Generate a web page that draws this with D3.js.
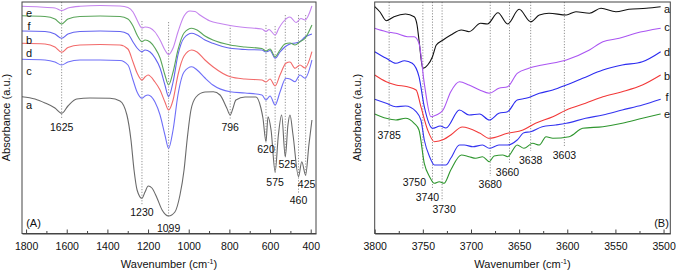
<!DOCTYPE html>
<html>
<head>
<meta charset="utf-8">
<script src="https://cdn.jsdelivr.net/npm/d3@7"></script>
<style>
  body { margin: 0; background: #fff; }
  svg { display: block; font-family: "Liberation Sans", Arial, sans-serif; }
</style>
</head>
<body>
<div id="vis"></div>
<script>
// ---- data: [wavenumber, absorbance (offset, a.u.)] ----

// panel A, 1820-374 cm-1
const A_a = [[1820,137.3],[1756,135],[1707,131],[1658,126],[1625,120.7],[1594,128],[1551,135],[1486,136],[1387,135.7],[1338,133],[1304,119],[1284,94],[1269,64],[1254,44],[1230,35.7],[1215,42],[1199,48],[1181,46],[1156,36],[1131,24],[1099,18],[1068,22],[1043,39],[1023,64],[1008,94],[989,124],[964,137],[920,142],[879,142.3],[846,139],[813,126],[796,119],[782,126],[768,134],[723,137],[669,137],[645,126],[635,116],[620,92.3],[610,117.3],[595,104],[575,62.3],[559,99],[543,119],[525,77.3],[512,109],[502,119],[487,99],[460,57.3],[444,72.3],[425,59],[409,89],[394,114]];
const A_c = [[1820,174.7],[1707,174],[1658,172],[1625,169],[1594,172],[1535,174],[1436,174],[1338,173.5],[1299,169],[1274,154],[1254,142],[1230,135.7],[1215,138],[1200,139],[1166,132],[1141,119],[1117,99],[1099,85.7],[1077,104],[1053,139],[1023,162],[985,167.3],[959,164],[920,156],[881,149],[796,142.3],[723,141],[640,139],[620,134],[600,138],[575,129],[551,142],[522,155.7],[502,155],[477,152.3],[453,159],[428,155.7],[394,174]];
const A_d = [[1820,190.7],[1707,190],[1658,187],[1625,181.7],[1594,186.5],[1535,189],[1436,189.5],[1338,189],[1299,185],[1274,172],[1254,161],[1230,154],[1215,157],[1200,159],[1166,152],[1141,144],[1117,132],[1099,124],[1077,134],[1053,159],[1023,178],[985,184],[959,182],[920,174],[881,167.3],[796,157.3],[723,155],[640,154],[620,152],[600,155],[575,148],[551,159],[522,170.7],[502,172],[477,165.7],[453,169],[428,166],[394,182.3]];
const A_b = [[1820,203],[1707,202.5],[1658,200],[1625,195.7],[1594,200],[1535,202.5],[1436,203],[1338,202.5],[1299,200],[1274,192],[1254,186],[1230,182.3],[1215,184],[1190,182],[1166,176],[1141,166],[1117,149],[1099,137.3],[1077,152],[1053,179],[1023,196],[985,200.7],[959,199],[920,194],[881,190.7],[796,185.7],[723,184.5],[640,184],[620,182],[600,183.5],[575,175.7],[551,182],[527,187],[502,190],[477,191],[453,192.3],[428,197],[394,200]];
const A_f = [[1820,218.3],[1707,217.5],[1658,215],[1625,210],[1594,215],[1535,217.5],[1436,218],[1338,217.5],[1299,215],[1274,208],[1254,199],[1230,192.3],[1215,194],[1190,192],[1166,186],[1141,176],[1117,159],[1099,149],[1077,162],[1053,184],[1023,201],[985,205.7],[959,204],[920,198],[881,194],[796,189],[723,187],[640,185.5],[620,183],[600,185],[575,177.3],[551,184],[527,190],[502,191],[477,189],[453,192.3],[428,195.7],[394,209]];
const A_e = [[1820,227.7],[1731,227],[1658,226],[1625,223.5],[1594,226],[1535,227.7],[1436,228.5],[1338,228],[1299,226.5],[1274,222],[1254,214],[1230,206],[1215,207],[1190,206],[1166,202],[1141,194],[1117,184],[1099,179.5],[1077,186],[1053,202],[1023,218],[994,223],[969,222.5],[945,219],[895,213],[846,210.5],[796,208.5],[723,206.5],[640,205],[620,202.5],[605,204.5],[575,199],[556,206],[536,212],[502,217],[472,211.5],[448,215.5],[428,214],[394,228]];

// panel B, 3800-3493 cm-1
const B_a = [[3800,227.3],[3794.5,222],[3788,213.3],[3780,217.3],[3768,220],[3759,217.3],[3756,209],[3754,194],[3750,165.7],[3745,169],[3740,177.3],[3736,189],[3729,194],[3721,199],[3710,204],[3702,202.3],[3690,210.7],[3683,210],[3672,221.3],[3662,210],[3650,224.7],[3638,212.3],[3629,219],[3619,220.7],[3601,219],[3591,222.3],[3577,220.7],[3565,225.7],[3549.5,222.3],[3536,224.7],[3518,225.7],[3503,227.3]];
const B_c = [[3800,205.7],[3788,202.3],[3778,200.7],[3766,197.3],[3759,197.3],[3754,190.7],[3748.5,150.7],[3741.6,117.3],[3736,119],[3729,124],[3721,142.3],[3712,152.3],[3702,149],[3691,144],[3681,140.7],[3671,145.7],[3662,147.3],[3652,160.7],[3640,165.7],[3626,169],[3601,174],[3577,184],[3563,192.3],[3546,195.7],[3529,200.7],[3503,205.7]];
const B_d = [[3800,182.3],[3788,175.7],[3778,170.7],[3769,173.3],[3761,170.7],[3754,157.3],[3748.5,127.3],[3740,105.7],[3732,108],[3726,106],[3712,124],[3702,119],[3691,120],[3681,114],[3671,120.7],[3662,122.3],[3652,134],[3643,135.7],[3629,140.7],[3615,144],[3601,149],[3584,155.7],[3563,164],[3543,169],[3522,172.3],[3503,182.3]];
const B_b = [[3800,159],[3788,152.3],[3778,149],[3766,147.3],[3757,144],[3752,127.3],[3745,104],[3738,92.3],[3728,94.7],[3721,99],[3709,107],[3691,101],[3681,95.7],[3662,100.7],[3646,104],[3633,110.7],[3615,117.3],[3601,124],[3581,130.7],[3563,137.3],[3543,142.3],[3522,149],[3503,159]];
const B_f = [[3800,134.7],[3788,130.7],[3778,127.3],[3768,128],[3757,122.3],[3752,114],[3748.5,94],[3743,77.3],[3738,69],[3726,69],[3721,75.7],[3712,89],[3707,89],[3698,87.3],[3688,89],[3681,85.7],[3671,89],[3662,89],[3652,94],[3645,101.3],[3638,102.3],[3626,107.3],[3612,109],[3601,110.7],[3581,115.7],[3563,119],[3543,124],[3522,129],[3503,134.7]];
const B_e = [[3800,120],[3788,115.7],[3778,114],[3768,115.7],[3759,110.7],[3754,104],[3748.5,70.7],[3743,57.3],[3738,50.7],[3733,52.3],[3728,50.7],[3721,64],[3710,79],[3702,77.3],[3695,75.7],[3688,77.3],[3681,72.3],[3676,78],[3667,79],[3662,77.3],[3652,89],[3645,85.7],[3636,90.7],[3629,89],[3622,97.3],[3615,95.7],[3598,97.3],[3584,105.7],[3563,107.3],[3543,110.7],[3522,115.7],[3503,120]];

const A_SERIES = ["a", "c", "d", "b", "f", "e"];
const B_SERIES = ["a", "c", "d", "b", "f", "e"];
const A_PEAKS = [1625, 1230, 1099, 796, 620, 575, 525, 460, 425];
const B_PEAKS = [3785, 3750, 3740, 3730, 3680, 3660, 3638, 3603];
const A_TICKS = [1800, 1600, 1400, 1200, 1000, 800, 600, 400];
const A_MINOR = [1700, 1500, 1300, 1100, 900, 700, 500];
const B_TICKS = [3800, 3750, 3700, 3650, 3600, 3550, 3500];
const B_MINOR = [3775, 3725, 3675, 3625, 3575, 3525];

// ---- layout ----
const WIDTH = 676, HEIGHT = 272;
const TOP = 2, BOTTOM = 233.5;
const A_BOX = {left: 22, right: 316};
const B_BOX = {left: 374.7, right: 670.3};

const A_COLORS = {a: "#6a6a6a", c: "#6f6ff8", d: "#f26a6a", b: "#6464f0", f: "#5aa55a", e: "#c483ee"};
const B_COLORS = {a: "#111111", c: "#aa55f2", d: "#2b2bf0", b: "#f23838", f: "#3535f0", e: "#2f962f"};

// series name label positions (pixel y), peak annotation layout
const A_NAME_Y = {e: 13, f: 26, b: 40, d: 53.5, c: 71.5, a: 105};
const B_NAME_Y = {a: 9.3, c: 27.3, d: 52.5, b: 75.7, f: 97.5, e: 114};
// [line top, line bottom, label x offset, label y]
const A_PEAK_LAYOUT = [[2,119,0,127],[21,205,0,212],[22,217,0,228],[25,119,0,127],[25,143,0,149.5],[26,174,0,182],[15,158,2,164.5],[15,193,0,200],[15,177,1,184]];
const B_PEAK_LAYOUT = [[2,128,0,135],[2,170,-8.5,182],[2,188,-5,197],[2,201,2,209.5],[2,176,0,184.5],[2,163,-2,172],[2,151,0,160],[2,146,0,155]];

const SVG = d3.select("#vis").append("svg")
  .attr("width", WIDTH)
  .attr("height", HEIGHT);

const Y_SCALE = d3.scaleLinear().domain([0, 232]).range([BOTTOM + 0.5, TOP]);

function build_panel(box, domain, seriesData, names, colors, nameY, nameX, nameAnchor,
                     peaks, peakLayout, ticks, minor, tag, tagX, ylabX) {
  const X_SCALE = d3.scaleLinear().domain(domain).range([box.left, box.right]);
  const g = SVG.append("g");

  // dotted peak guides
  peaks.forEach((p, i) => {
    const L = peakLayout[i];
    g.append("line")
      .attr("x1", X_SCALE(p)).attr("x2", X_SCALE(p))
      .attr("y1", L[0]).attr("y2", L[1])
      .attr("stroke", "#777").attr("stroke-width", 0.8)
      .attr("stroke-dasharray", "1.2,1.6");
  });

  // spectra
  const line = d3.line()
    .x(d => X_SCALE(d[0]))
    .y(d => Y_SCALE(d[1]))
    .curve(d3.curveMonotoneX);

  names.forEach((n) => {
    g.append("path")
      .datum(seriesData[n])
      .attr("d", line)
      .attr("fill", "none")
      .attr("stroke", colors[n])
      .attr("stroke-width", 1.1);
    g.append("text")
      .attr("x", nameX)
      .attr("y", nameY[n])
      .attr("dy", "0.35em")
      .attr("text-anchor", nameAnchor)
      .attr("font-size", "11px")
      .attr("fill", "#111")
      .text(n);
  });

  // peak labels
  peaks.forEach((p, i) => {
    const L = peakLayout[i];
    g.append("text")
      .attr("x", X_SCALE(p) + L[2])
      .attr("y", L[3])
      .attr("dy", "0.35em")
      .attr("text-anchor", "middle")
      .attr("font-size", "10.5px")
      .attr("fill", "#111")
      .text(p);
  });

  // frame
  g.append("rect")
    .attr("x", box.left).attr("y", TOP)
    .attr("width", box.right - box.left).attr("height", BOTTOM - TOP)
    .attr("fill", "none").attr("stroke", "#444").attr("stroke-width", 1);

  // x axis, ticks pointing inward
  const ax = g.append("g")
    .attr("transform", "translate(0," + BOTTOM + ")")
    .call(d3.axisBottom(X_SCALE).tickValues(ticks).tickSizeInner(-4).tickSizeOuter(0).tickPadding(9).tickFormat(d3.format("d")));
  ax.select(".domain").attr("stroke", "#444");
  ax.selectAll(".tick line").attr("stroke", "#444");
  ax.selectAll("text").attr("font-size", "10.5px").attr("fill", "#111").attr("font-family", "Liberation Sans, Arial, sans-serif");

  const mx = g.append("g")
    .attr("transform", "translate(0," + BOTTOM + ")")
    .call(d3.axisBottom(X_SCALE).tickValues(minor).tickSizeInner(-2.5).tickSizeOuter(0).tickFormat(""));
  mx.select(".domain").remove();
  mx.selectAll(".tick line").attr("stroke", "#444");

  // axis titles
  const cx = (box.left + box.right) / 2;
  const title = g.append("text")
    .attr("x", cx)
    .attr("y", 267.5)
    .attr("text-anchor", "middle")
    .attr("font-size", "11px")
    .attr("fill", "#111");
  title.append("tspan").text("Wavenumber (cm");
  title.append("tspan").attr("font-size", "7px").attr("dy", "-4").text("-1");
  title.append("tspan").attr("dy", "4").text(")");

  g.append("text")
    .attr("transform", "translate(" + ylabX + "," + 117.5 + ") rotate(-90)")
    .attr("text-anchor", "middle")
    .attr("font-size", "11px")
    .attr("fill", "#111")
    .text("Absorbance (a.u.)");

  g.append("text")
    .attr("x", tagX)
    .attr("y", 223)
    .attr("dy", "0.35em")
    .attr("text-anchor", "middle")
    .attr("font-size", "11px")
    .attr("fill", "#111")
    .text(tag);
}

build_panel(A_BOX, [1820, 374],
  {a: A_a, c: A_c, d: A_d, b: A_b, f: A_f, e: A_e},
  A_SERIES, A_COLORS, A_NAME_Y, 29, "middle",
  A_PEAKS, A_PEAK_LAYOUT, A_TICKS, A_MINOR, "(A)", 33.5, 9.5);

build_panel(B_BOX, [3800, 3493],
  {a: B_a, c: B_c, d: B_d, b: B_b, f: B_f, e: B_e},
  B_SERIES, B_COLORS, B_NAME_Y, 667, "middle",
  B_PEAKS, B_PEAK_LAYOUT, B_TICKS, B_MINOR, "(B)", 661.5, 361);
</script>
</body>
</html>
